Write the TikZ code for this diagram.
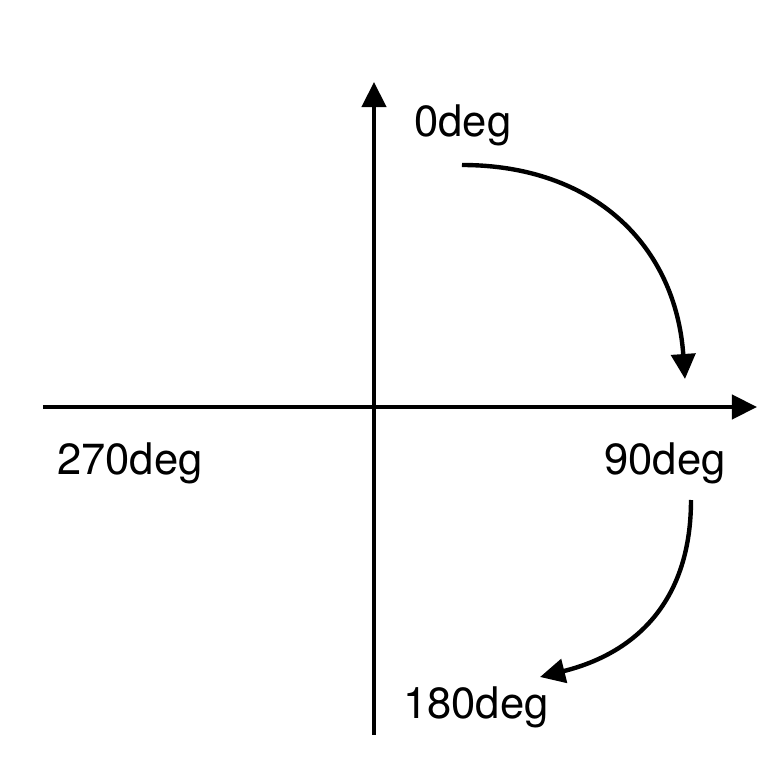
\documentclass[tikz,border=0pt]{standalone}
\usepackage{fontspec}
\setmainfont{TeX Gyre Heros}
\usepackage{tikz,tkz-euclide}
\usetikzlibrary{arrows.meta}

\begin{document}
\begin{tikzpicture}[scale=1,>={Triangle[length=0.25cm,width=0.24cm]}, font=\fontsize{12.4}{15}\selectfont, line join=round, line width=1.25pt]
	% [Khung - Layer 1]
	\useasboundingbox (0,0) rectangle (7.82,7.84);
	\tkzDefPoints{3.74/0.49/Yb,3.74/7.02/Yt,0.43/3.77/Xl,7.57/3.77/Xr}
	\tkzDefPoints{4.62/6.19/P0,6.85/4.05/P1,6.91/2.84/Q0,5.40/1.07/Q1}
	
	% [Truc toa do - Layer 2]
	\draw[->] (Yb) -- (Yt);
	\draw[->] (Xl) -- (Xr);
	
	% [Cung quay - Layer 3]
	\draw[->] (P0) to[out=0,in=94,looseness=1.1] (P1);
	\draw[->] (Q0) to[out=-90,in=14,looseness=1.1] (Q1);
	
	% [Nhan - Layer 4]
	\node (deg0) at (4.63,6.59) {0deg};
	\node (deg90) at (6.65,3.21) {90deg};
	\node (deg180) at (4.76,0.77) {180deg};
	\node (deg270) at (1.30,3.21) {270deg};
\end{tikzpicture}
\end{document}
